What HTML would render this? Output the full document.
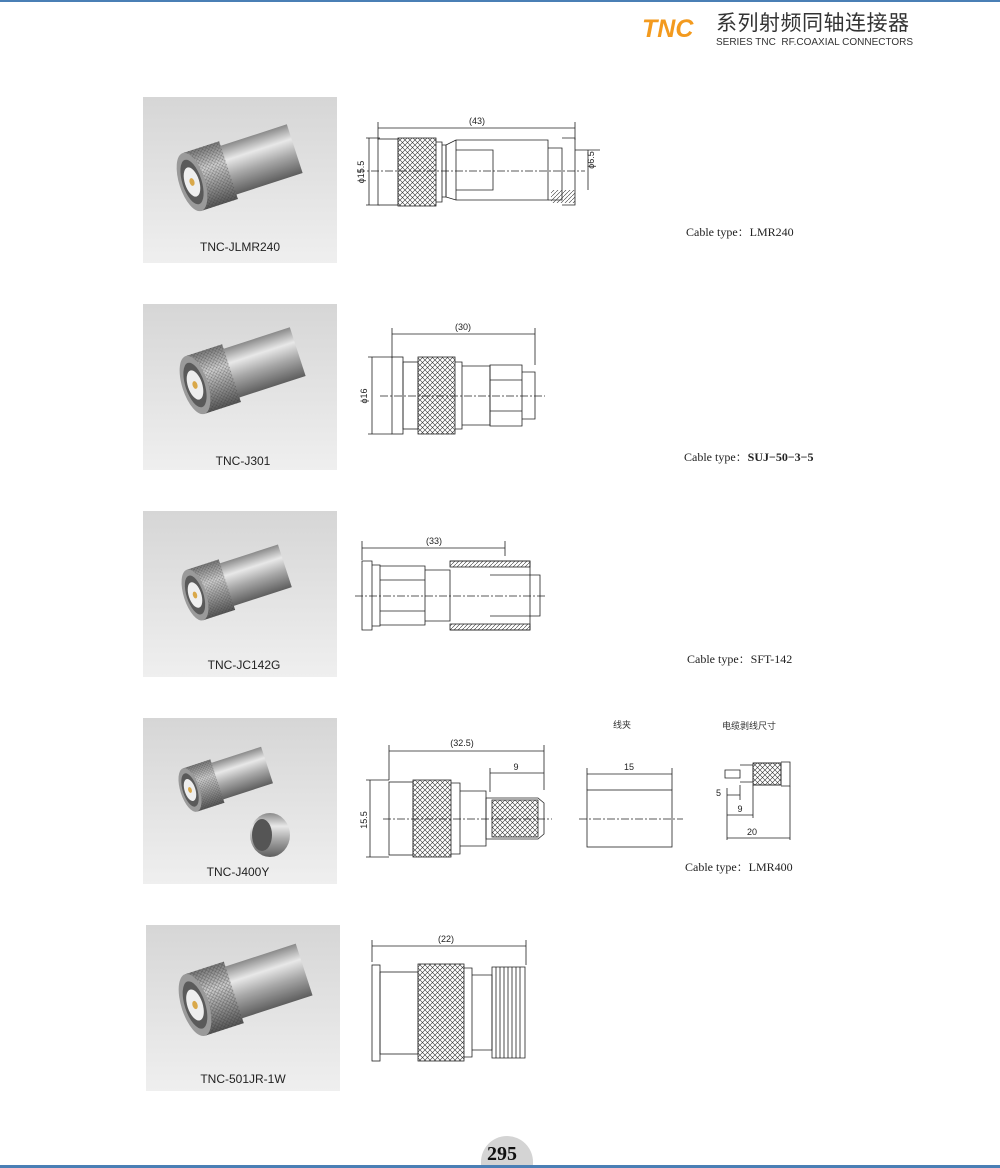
<!DOCTYPE html>
<html><head><meta charset="utf-8"><style>
html,body{margin:0;padding:0;background:#fff;}
body{width:1000px;height:1168px;position:relative;overflow:hidden;font-family:"Liberation Sans",sans-serif;}
.t{position:absolute;white-space:nowrap;}
</style></head><body>
<div style="position:absolute;left:0;top:0;width:1000px;height:2px;background:#4a7fb5"></div>
<div class="t" style="left:642px;top:15px;font:italic bold 25px 'Liberation Sans',sans-serif;color:#f39a1e;line-height:28px">TNC</div>
<div class="t" style="left:716px;top:11px;font:21px 'Liberation Sans','Noto Sans CJK SC',sans-serif;color:#333;letter-spacing:0.5px;line-height:25px">系列射频同轴连接器</div>
<div class="t" style="left:716px;top:37px;font:10px 'Liberation Sans',sans-serif;color:#333;line-height:11px">SERIES TNC&nbsp; RF.COAXIAL CONNECTORS</div>

<svg width="1000" height="1168" style="position:absolute;left:0;top:0" xmlns="http://www.w3.org/2000/svg" font-family="Liberation Sans, sans-serif">
<defs>
<pattern id="kn" width="5" height="5" patternUnits="userSpaceOnUse"><path d="M0 0L5 5M5 0L0 5" stroke="#333" stroke-width="0.6"/></pattern>
<pattern id="hh" width="4" height="4" patternUnits="userSpaceOnUse"><path d="M0 4L4 0" stroke="#333" stroke-width="0.6"/></pattern>
<linearGradient id="bg" x1="0" y1="0" x2="0" y2="1"><stop offset="0" stop-color="#d6d6d6"/><stop offset="1" stop-color="#efefef"/></linearGradient>
<linearGradient id="met" x1="0" y1="0" x2="0" y2="1"><stop offset="0" stop-color="#8a8a8a"/><stop offset=".3" stop-color="#e8e8e8"/><stop offset=".6" stop-color="#a8a8a8"/><stop offset="1" stop-color="#5e5e5e"/></linearGradient>
<linearGradient id="knm" x1="0" y1="0" x2="0" y2="1"><stop offset="0" stop-color="#777"/><stop offset=".35" stop-color="#ccc"/><stop offset="1" stop-color="#555"/></linearGradient>
<clipPath id="c1"><rect x="143" y="97" width="194" height="166"/></clipPath>
<clipPath id="c2"><rect x="143" y="304" width="194" height="166"/></clipPath>
<clipPath id="c3"><rect x="143" y="511" width="194" height="166"/></clipPath>
<clipPath id="c4"><rect x="143" y="718" width="194" height="166"/></clipPath>
<clipPath id="c5"><rect x="146" y="925" width="194" height="166"/></clipPath>
<g id="conn">
 <rect x="40" y="-32" width="95" height="64" fill="url(#met)"/>
 <rect x="0" y="-38" width="48" height="76" fill="url(#knm)"/>
 <rect x="0" y="-38" width="48" height="76" fill="url(#kn)" opacity=".5"/>
 <ellipse cx="0" cy="0" rx="16" ry="38" fill="#9a9a9a"/>
 <ellipse cx="0" cy="0" rx="12" ry="29" fill="#5a5a5a"/>
 <ellipse cx="0" cy="0" rx="9" ry="19" fill="#eee"/>
 <ellipse cx="0" cy="0" rx="3" ry="5" fill="#d9a84a"/>
</g>
</defs>

<rect x="143" y="97" width="194" height="166" fill="url(#bg)"/>
<g clip-path="url(#c1)"><g transform="translate(192,182) rotate(-18) scale(0.8)"><use href="#conn"/></g></g>
<text x="240" y="251" font-size="12" text-anchor="middle" fill="#222">TNC-JLMR240</text>
<rect x="143" y="304" width="194" height="166" fill="url(#bg)"/>
<g clip-path="url(#c2)"><g transform="translate(195,385) rotate(-18) scale(0.8)"><use href="#conn"/></g></g>
<text x="243" y="465" font-size="12" text-anchor="middle" fill="#222">TNC-J301</text>
<rect x="143" y="511" width="194" height="166" fill="url(#bg)"/>
<g clip-path="url(#c3)"><g transform="translate(195,595) rotate(-18) scale(0.7)"><use href="#conn"/></g></g>
<text x="244" y="669" font-size="12" text-anchor="middle" fill="#222">TNC-JC142G</text>
<rect x="143" y="718" width="194" height="166" fill="url(#bg)"/>
<g clip-path="url(#c4)"><g transform="translate(190,790) rotate(-18) scale(0.6)"><use href="#conn"/></g>
<ellipse cx="270" cy="835" rx="20" ry="22" fill="url(#met)"/><ellipse cx="262" cy="835" rx="10" ry="16" fill="#555"/></g>
<text x="238" y="876" font-size="12" text-anchor="middle" fill="#222">TNC-J400Y</text>
<rect x="146" y="925" width="194" height="166" fill="url(#bg)"/>
<g clip-path="url(#c5)"><g transform="translate(195,1005) rotate(-18) scale(0.85)"><use href="#conn"/></g></g>
<text x="243" y="1083" font-size="12" text-anchor="middle" fill="#222">TNC-501JR-1W</text>

<g fill="none" stroke="#222" stroke-width="0.8" font-size="9">
<path d="M378 122V140M575 122V140M378 128H575"/><text x="477" y="124" fill="#222" stroke="none" text-anchor="middle">(43)</text>
<path d="M366 138H380M366 205H380M369 138V205"/><text x="364" y="172" fill="#222" stroke="none" transform="rotate(-90 364 172)" text-anchor="middle">ϕ15.5</text>
<rect x="378" y="139" width="20" height="66" fill="#fff"/>
<rect x="398" y="138" width="38" height="68" fill="url(#kn)"/>
<path d="M436 142H442V202H436M442 145H446V197H442"/>
<path d="M446 145L456 140H548V200H456L446 197ZM456 140V200M456 150H493V190H456"/>
<path d="M548 148H562V200H548M562 138H575V205H562" />
<rect x="551" y="190" width="24" height="13" fill="url(#hh)" stroke="none"/>
<path d="M357 171H585" stroke-dasharray="8 2 2 2"/>
<path d="M575 150H600M588 150V190"/><text x="594" y="160" fill="#222" stroke="none" transform="rotate(-90 594 160)" text-anchor="middle">ϕ6.5</text>
<path d="M392 328V358M535 328V365M392 334H535"/><text x="463" y="330" fill="#222" stroke="none" text-anchor="middle">(30)</text>
<path d="M368 357H392M368 434H392M372 357V434"/><text x="367" y="396" fill="#222" stroke="none" transform="rotate(-90 367 396)" text-anchor="middle">ϕ16</text>
<rect x="392" y="357" width="11" height="77"/><rect x="403" y="362" width="15" height="67"/>
<rect x="418" y="357" width="37" height="77" fill="url(#kn)"/>
<path d="M455 362H462V429H455M462 366H490V425H462"/>
<path d="M490 365H522V426H490ZM490 380H522M490 411H522M522 372H535V419H522"/>
<path d="M380 396H545" stroke-dasharray="8 2 2 2"/>
<path d="M362 541V560M505 541V556M362 548H505"/><text x="434" y="544" fill="#222" stroke="none" text-anchor="middle">(33)</text>
<path d="M362 561H372V630H362ZM372 565H380V626H372M380 566H425V625H380M380 580H425M380 611H425"/>
<path d="M425 570H450V621H425M450 561H530V630H450"/>
<rect x="450" y="561" width="80" height="6" fill="url(#hh)"/><rect x="450" y="624" width="80" height="6" fill="url(#hh)"/>
<path d="M530 575H540V616H530M490 575H530M490 616H530"/>
<path d="M355 596H545" stroke-dasharray="8 2 2 2"/>
<path d="M389 745V780M544 745V790M389 751H544"/><text x="462" y="746" fill="#222" stroke="none" text-anchor="middle">(32.5)</text>
<path d="M490 768V792M490 773H544"/><text x="516" y="770" fill="#222" stroke="none" text-anchor="middle">9</text>
<path d="M366 780H389M366 857H389M370 780V857"/><text x="367" y="820" fill="#222" stroke="none" transform="rotate(-90 367 820)" text-anchor="middle">15.5</text>
<rect x="389" y="782" width="24" height="73"/>
<rect x="413" y="780" width="38" height="77" fill="url(#kn)"/>
<path d="M451 783H460V854H451M460 791H486V846H460"/>
<rect x="492" y="800" width="46" height="37" fill="url(#kn)"/><path d="M486 798H538L544 803V834L538 839H486Z"/>
<path d="M383 819H552" stroke-dasharray="8 2 2 2"/>
<path d="M587 768V790M672 768V790M587 774H672"/><text x="629" y="770" fill="#222" stroke="none" text-anchor="middle">15</text>
<rect x="587" y="790" width="85" height="57"/>
<path d="M579 819H683" stroke-dasharray="8 2 2 2"/>
<path d="M725 770H740V778H725ZM740 765H753V782H740"/><rect x="753" y="763" width="28" height="22" fill="url(#kn)"/>
<path d="M753 763H781V785H753M781 762H790V786H781"/>
<path d="M740 785V800M727 788V840M753 785V818M790 786V840M727 795H740M727 815H753M727 838H790"/>
<text x="716" y="796" fill="#222" stroke="none">5</text><text x="740" y="812" fill="#222" stroke="none" text-anchor="middle">9</text><text x="752" y="835" fill="#222" stroke="none" text-anchor="middle">20</text>
<path d="M372 940V962M526 940V965M372 946H526"/><text x="446" y="942" fill="#222" stroke="none" text-anchor="middle">(22)</text>
<rect x="372" y="965" width="8" height="96"/><rect x="380" y="972" width="38" height="82"/>
<rect x="418" y="964" width="46" height="97" fill="url(#kn)"/>
<path d="M464 968H472V1057H464M472 975H492V1050H472"/>
<path d="M492 967H525V1058H492ZM496 967V1058M500 967V1058M504 967V1058M508 967V1058M512 967V1058M516 967V1058M520 967V1058"/>
</g>
</svg>

<div class="t" style="left:686px;top:223px;font:12px 'Liberation Serif','Noto Serif CJK SC',serif;color:#222">Cable type：LMR240</div>
<div class="t" style="left:684px;top:448px;font:12px 'Liberation Serif','Noto Serif CJK SC',serif;color:#222">Cable type：<b>SUJ−50−3−5</b></div>
<div class="t" style="left:687px;top:650px;font:12px 'Liberation Serif','Noto Serif CJK SC',serif;color:#222">Cable type：SFT-142</div>
<div class="t" style="left:685px;top:858px;font:12px 'Liberation Serif','Noto Serif CJK SC',serif;color:#222">Cable type：LMR400</div>
<div class="t" style="left:613px;top:718px;font:9px 'Liberation Sans','Noto Sans CJK SC',sans-serif;color:#333">线夹</div>
<div class="t" style="left:722px;top:719px;font:9px 'Liberation Sans','Noto Sans CJK SC',sans-serif;color:#333">电缆剥线尺寸</div>

<div style="position:absolute;left:481px;top:1136px;width:52px;height:32px;border-radius:26px 26px 0 0;background:#d4d4d4"></div>
<div class="t" style="left:487px;top:1142px;font:bold 20px 'Liberation Serif',serif;color:#111;line-height:24px">295</div>
<div style="position:absolute;left:0;top:1165px;width:1000px;height:3px;background:#4a7fb5"></div>
</body></html>
